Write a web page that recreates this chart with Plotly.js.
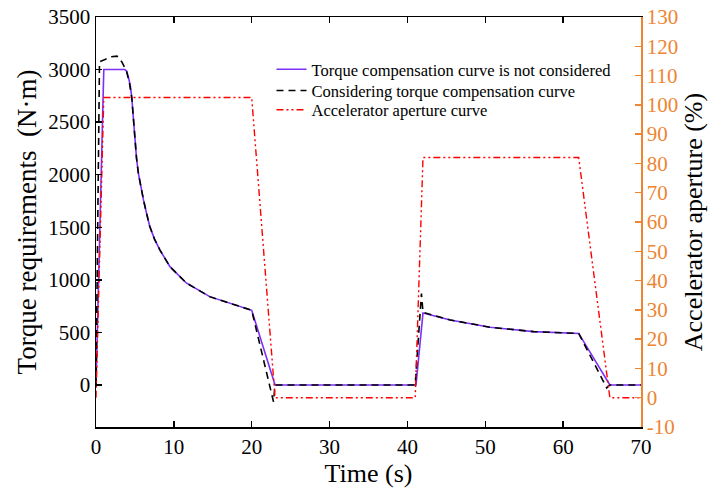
<!DOCTYPE html>
<html>
<head>
<meta charset="utf-8">
<script src="https://cdn.plot.ly/plotly-3.0.1.min.js"></script>
<style>html,body{margin:0;padding:0;background:#fff;}#chart{width:715px;height:488px;}</style>
</head>
<body>
<div id="chart"></div>
<script>
// Torque requirement without compensation (N·m)
const tPlain = [0, 1, 3.7, 3.95, 4.15, 4.4, 4.6, 4.8, 5.0, 5.2, 5.45, 5.75, 6.1, 6.5, 6.9, 7.5, 8.2, 9.5, 11.6, 14.6, 17.2, 20, 23, 41.1, 42, 45.5, 50.6, 56.2, 62, 66, 70];
const vPlain = [0, 3000, 3000, 2985, 2930, 2850, 2730, 2540, 2330, 2160, 2010, 1880, 1760, 1630, 1510, 1390, 1285, 1125, 970, 840, 775, 710, 0, 0, 685, 618, 549, 507, 490, 0, 0];

// Torque requirement with compensation (N·m)
const tComp = [0, 0.45, 1, 1.8, 2.7, 3.3, 3.9, 4.3, 4.6, 4.8, 5.0, 5.2, 5.45, 5.75, 6.1, 6.5, 6.9, 7.5, 8.2, 9.5, 11.6, 14.6, 17.2, 20, 22.8, 23, 41.0, 41.8, 42, 45.5, 50.6, 56.2, 62, 65.6, 66, 70];
const vComp = [0, 3075, 3090, 3120, 3128, 3075, 2990, 2870, 2730, 2540, 2330, 2160, 2010, 1880, 1760, 1630, 1510, 1390, 1285, 1125, 970, 840, 775, 710, -160, 0, 0, 870, 690, 618, 549, 507, 490, -28, 0, 0];

// Accelerator aperture (%)
const tAcc = [0, 1, 20, 23, 41, 42, 62, 66, 70];
const vAcc = [0, 102.5, 102.5, 0, 0, 82, 82, 0, 0];

const xTicks = [0, 10, 20, 30, 40, 50, 60, 70];
const yTicks = [0, 500, 1000, 1500, 2000, 2500, 3000, 3500];
const y2Ticks = [-10, 0, 10, 20, 30, 40, 50, 60, 70, 80, 90, 100, 110, 120, 130];

const names = [
  'Torque compensation curve is not considered',
  'Considering torque compensation curve',
  'Accelerator aperture curve'
];

const orange = '#EE8533';
const font = 'Liberation Serif, Times New Roman, serif';

const traces = [
  {x: tPlain, y: vPlain, name: names[0], mode: 'lines', line: {color: '#7B2FF7', width: 1.6}, yaxis: 'y', legend: 'legend'},
  {x: tComp, y: vComp, name: names[1], mode: 'lines', line: {color: '#000000', width: 1.6, dash: '7px,5px'}, yaxis: 'y', legend: 'legend2'},
  {x: tAcc, y: vAcc, name: names[2], mode: 'lines', line: {color: '#FF0000', width: 1.4, dash: '7px,3px,2px,3px,2px,3px'}, yaxis: 'y2', legend: 'legend3'}
];

function legendAt(yPaper) {
  return {
    x: 0.322, y: yPaper, xanchor: 'left', yanchor: 'middle',
    bgcolor: 'rgba(0,0,0,0)', borderwidth: 0,
    font: {family: font, size: 16.5, color: '#000'}
  };
}

const layout = {
  width: 715, height: 488,
  margin: {l: 96, r: 74, t: 17, b: 61},
  paper_bgcolor: '#fff', plot_bgcolor: '#fff',
  font: {family: font, color: '#000', size: 21},
  showlegend: true,
  legend: legendAt(0.872),
  legend2: legendAt(0.820),
  legend3: legendAt(0.773),
  xaxis: {
    range: [0, 70], tickvals: xTicks, ticktext: xTicks.map(String),
    showgrid: false, zeroline: false,
    showline: true, linecolor: '#000', linewidth: 1.5,
    mirror: 'ticks', ticks: 'inside', ticklen: 6, tickcolor: '#000', tickwidth: 1.5,
    tickfont: {family: font, size: 21, color: '#000'},
    title: {text: 'Time (s)', font: {family: font, size: 26, color: '#000'}, standoff: 2}
  },
  yaxis: {
    range: [-400, 3500], tickvals: yTicks, ticktext: yTicks.map(String),
    showgrid: false, zeroline: false,
    showline: true, linecolor: '#000', linewidth: 1.5,
    ticks: 'inside', ticklen: 6, tickcolor: '#000', tickwidth: 1.5,
    tickfont: {family: font, size: 21, color: '#000'},
    title: {text: 'Torque requirements  (N·m)', font: {family: font, size: 27, color: '#000'}, standoff: 4}
  },
  yaxis2: {
    overlaying: 'y', side: 'right', anchor: 'x',
    range: [-10, 130], tickvals: y2Ticks, ticktext: y2Ticks.map(String),
    showgrid: false, zeroline: false,
    showline: true, linecolor: orange, linewidth: 1.5,
    ticks: 'inside', ticklen: 6, tickcolor: orange, tickwidth: 1.5,
    tickfont: {family: font, size: 21, color: orange},
    title: {text: 'Accelerator aperture (%)', font: {family: font, size: 26, color: '#000'}, standoff: 6}
  }
};

Plotly.newPlot('chart', traces, layout, {displayModeBar: false, staticPlot: true});
</script>
</body>
</html>
